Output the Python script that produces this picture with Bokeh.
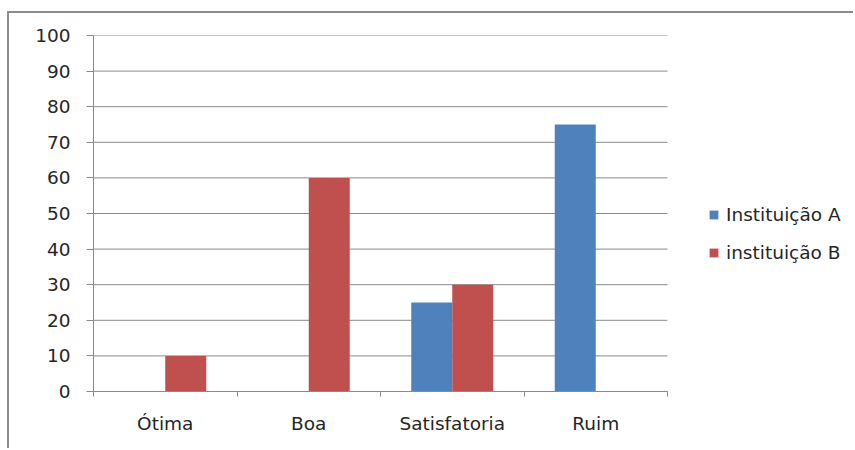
from bokeh.plotting import figure
from bokeh.models import ColumnDataSource, FixedTicker, Legend, LegendItem, Range1d
from bokeh.embed import file_html
from bokeh.resources import INLINE

categories = ["Ótima", "Boa", "Satisfatoria", "Ruim"]
inst_a = [0, 0, 25, 75]
inst_b = [10, 60, 30, 0]
series_names = ["Instituição A", "instituição B"]
y_ticks = [0, 10, 20, 30, 40, 50, 60, 70, 80, 90, 100]

BLUE = "#4F81BD"
RED = "#C0504D"
GRID = "#8a8a8a"
FONT = "DejaVu Sans"
FS = "18.5px"
TXT = "#262626"

OX, OY = 9, 13  # offset of figure inside the page (outer chart border)
W, H = 855 - OX, 450 - OY
PLOT_L, PLOT_R, PLOT_T, PLOT_B = 93, 667, 35, 391
ncat = len(categories)
frame_w = W - (PLOT_L - OX)
x_end = ncat * frame_w / (PLOT_R - PLOT_L)

p = figure(width=W, height=H, output_backend="svg", toolbar_location=None,
           x_range=Range1d(0, x_end), y_range=Range1d(0, 100),
           min_border_left=PLOT_L - OX, min_border_right=0,
           min_border_top=PLOT_T - OY, min_border_bottom=H - (PLOT_B - OY))
p.styles = {"margin-left": "7px", "margin-top": "11px",
            "border-left": "2px solid #8c8c8c", "border-top": "2px solid #8c8c8c"}
p.outline_line_color = None
p.background_fill_color = "white"
p.border_fill_color = "white"
p.xgrid.grid_line_color = None
p.ygrid.grid_line_color = None

# horizontal gridlines limited to the plot area (categories 0..ncat)
p.segment(x0=[0] * len(y_ticks), x1=[ncat] * len(y_ticks), y0=y_ticks, y1=y_ticks,
          line_color=GRID, line_width=1)

bw = 41 / 143.5
idx = list(range(ncat))
src = ColumnDataSource(dict(
    xa=[i + 0.5 - bw / 2 for i in idx],
    xb=[i + 0.5 + bw / 2 for i in idx],
    a=inst_a, b=inst_b))
ra = p.vbar(x="xa", top="a", bottom=0, width=bw, source=src, fill_color=BLUE, line_color=None)
rb = p.vbar(x="xb", top="b", bottom=0, width=bw, source=src, fill_color=RED, line_color=None)

# axes
p.yaxis.ticker = FixedTicker(ticks=y_ticks, minor_ticks=[])
p.yaxis.axis_line_color = GRID
p.yaxis.major_tick_line_color = GRID
p.yaxis.major_tick_out = 7
p.yaxis.major_tick_in = 0
p.yaxis.minor_tick_line_color = None
p.yaxis.major_label_standoff = 16
p.yaxis.major_label_text_font = FONT
p.yaxis.major_label_text_font_size = FS
p.yaxis.major_label_text_color = TXT

p.xaxis.bounds = (0, ncat)
p.xaxis.ticker = FixedTicker(ticks=[i + 0.5 for i in idx], minor_ticks=list(range(ncat + 1)))
p.xaxis.major_label_overrides = {i + 0.5: c for i, c in zip(idx, categories)}
p.xaxis.major_tick_line_color = None
p.xaxis.minor_tick_line_color = GRID
p.xaxis.minor_tick_in = 0
p.xaxis.minor_tick_out = 5
p.xaxis.axis_line_color = GRID
p.xaxis.major_label_standoff = 15
p.xaxis.major_label_text_font = FONT
p.xaxis.major_label_text_font_size = FS
p.xaxis.major_label_text_color = TXT

legend = Legend(items=[LegendItem(label=series_names[0], renderers=[ra]),
                       LegendItem(label=series_names[1], renderers=[rb])],
                location=(708 - PLOT_L, 128), orientation="vertical")
legend.glyph_width = 11
legend.glyph_height = 11
legend.label_height = 20
legend.spacing = 17
legend.label_standoff = 7
legend.padding = 0
legend.margin = 0
legend.border_line_color = None
legend.background_fill_alpha = 0
legend.label_text_font = FONT
legend.label_text_font_size = FS
legend.label_text_color = TXT
p.add_layout(legend, "center")

open("out.html", "w").write(file_html(p, INLINE))
